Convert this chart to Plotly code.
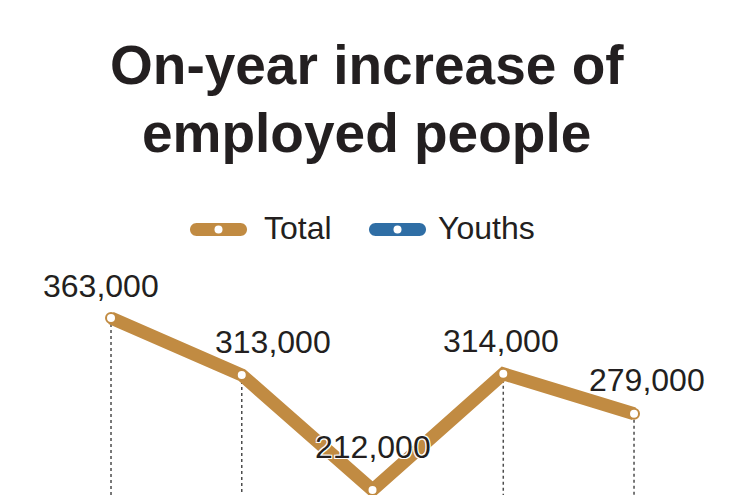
import plotly.graph_objects as go

# ---- data ----
periods = ["P1", "P2", "P3", "P4", "P5"]
total = [363000, 313000, 212000, 314000, 279000]
legend_names = ["Total", "Youths"]
legend_colors = ["#C18B42", "#2F6EA5"]
title_lines = ["On-year increase of", "employed people"]

# ---- styling ----
W, H = 750, 495
GOLD = legend_colors[0]
TXT = "#231F20"
FONT = "Liberation Sans"
label_dx = [-10, 31, 0, -2, 13]
label_dy = [32, 33, 43, 33, 34]
legend_cx = [218.5, 397.5]
legend_tx = [262, 436]
legend_cy = 229.5
title_cy = [65.5, 132.5]

fig = go.Figure()
fig.add_trace(go.Scatter(
    x=periods, y=total, name=legend_names[0], mode="lines+markers",
    line=dict(color=GOLD, width=13),
    marker=dict(size=10, color="white", line=dict(color=GOLD, width=2)),
    cliponaxis=False, showlegend=False, hoverinfo="skip"))

shapes = []
for p, v in zip(periods, total):
    shapes.append(dict(type="line", xref="x", yref="y", x0=p, x1=p, y0=v, y1=0,
                       line=dict(color="#4d4d4d", width=1.5, dash="dot"), layer="below"))

halo = "-1px -1px 0 #fff, 1px -1px 0 #fff, -1px 1px 0 #fff, 1px 1px 0 #fff"
annotations = []
for p, v, dx, dy in zip(periods, total, label_dx, label_dy):
    annotations.append(dict(x=p, y=v, xref="x", yref="y", text=f"{v:,}", showarrow=False,
                            xshift=dx, yshift=dy, xanchor="center", yanchor="middle",
                            font=dict(family=FONT, size=32, color=TXT, shadow=halo)))

# title (two lines, bold)
for line, cy in zip(title_lines, title_cy):
    annotations.append(dict(x=366.5 / W, y=1 - cy / H, xref="paper", yref="paper",
                            text=f"<b>{line}</b>", showarrow=False,
                            xanchor="center", yanchor="middle",
                            font=dict(family=FONT, size=55, color=TXT)))

# legend drawn as pills
L, r = 28.5, 6.5
k = 0.5523 * r
a = L - r
pill = (f"M{-a},{-r} L{a},{-r} C{a+k},{-r} {L},{-k} {L},0 C{L},{k} {a+k},{r} {a},{r} "
        f"L{-a},{r} C{-a-k},{r} {-L},{k} {-L},0 C{-L},{-k} {-a-k},{-r} {-a},{-r} Z")
for name, col, cx, tx in zip(legend_names, legend_colors, legend_cx, legend_tx):
    shapes.append(dict(type="path", xref="paper", yref="paper", xsizemode="pixel", ysizemode="pixel",
                       xanchor=cx / W, yanchor=1 - legend_cy / H, path=pill,
                       fillcolor=col, line=dict(width=0)))
    shapes.append(dict(type="circle", xref="paper", yref="paper", xsizemode="pixel", ysizemode="pixel",
                       xanchor=cx / W, yanchor=1 - legend_cy / H, x0=-4, x1=4, y0=-4, y1=4,
                       fillcolor="white", line=dict(width=0)))
    annotations.append(dict(x=tx / W, y=1 - (legend_cy - 1.5) / H, xref="paper", yref="paper",
                            text=name, showarrow=False, xanchor="left", yanchor="middle",
                            font=dict(family=FONT, size=32, color=TXT)))

fig.update_layout(
    width=W, height=H, autosize=False,
    margin=dict(l=0, r=0, t=0, b=0),
    paper_bgcolor="white", plot_bgcolor="white",
    xaxis=dict(type="category", range=[-0.849, 4.887], visible=False, fixedrange=True),
    yaxis=dict(range=[207600, 642200], visible=False, fixedrange=True),
    shapes=shapes, annotations=annotations, showlegend=False,
)

fig.write_html("out.html")
